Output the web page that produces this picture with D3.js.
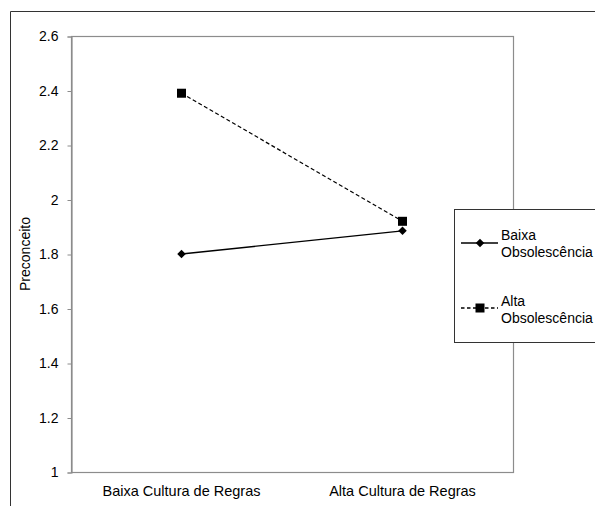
<!DOCTYPE html>
<html><head><meta charset="utf-8">
<script src="https://cdn.jsdelivr.net/npm/d3@7"></script>
<style>body{margin:0;background:#fff}svg{display:block}text{font-family:"Liberation Sans",Arial,sans-serif}</style>
</head><body>
<script>
const categories = ["Baixa Cultura de Regras", "Alta Cultura de Regras"];
const seriesNames = ["Baixa Obsolescência", "Alta Obsolescência"];
const baixaObs = [1.80, 1.885];
const altaObs = [2.39, 1.92];
const yTicks = [1, 1.2, 1.4, 1.6, 1.8, 2, 2.2, 2.4, 2.6];

const W = 595, H = 506;
const FONT = "Liberation Sans, Arial, sans-serif";
const svg = d3.select("body").append("svg").attr("width", W).attr("height", H);

// outer frame (left and top)
svg.append("path").attr("d", `M10.5,${H}V11.5H${W}`).attr("fill","none").attr("stroke","#333").attr("stroke-width",1);

const L = 71, T = 36, R = 513, B = 472;
const x = d3.scaleBand().domain(categories).range([L, R]);
const y = d3.scaleLinear().domain([1, 2.6]).range([B, T]);

// plot border
svg.append("rect").attr("x", L+0.5).attr("y", T+0.5).attr("width", R-L).attr("height", B-T)
  .attr("fill","none").attr("stroke","#8c8c8c").attr("stroke-width",1.2);

// y axis
const yAxis = svg.append("g").attr("transform", `translate(${L+0.5},0.5)`)
  .call(d3.axisLeft(y).tickValues(yTicks).tickSize(4).tickPadding(9).tickFormat(d => String(+d.toFixed(1))));
yAxis.select(".domain").attr("stroke","#8c8c8c").attr("stroke-width",1.2);
yAxis.selectAll(".tick line").attr("stroke","#8c8c8c");
yAxis.selectAll("text").attr("font-size", 14).attr("fill","#000").attr("font-family",FONT);

// x axis labels
const xAxis = svg.append("g").attr("transform", `translate(0,${B+0.5})`)
  .call(d3.axisBottom(x).tickSize(0).tickPadding(13));
xAxis.select(".domain").remove();
xAxis.selectAll("text").attr("font-size", 14.5).attr("fill","#000").attr("font-family",FONT);

// y label
svg.append("text").attr("transform", `translate(30,${(T+B)/2}) rotate(-90)`)
  .attr("text-anchor","middle").attr("font-size", 14).text("Preconceito");

const cx = c => x(c) + x.bandwidth()/2;
const line = d3.line().x((d,i) => cx(categories[i])).y(d => y(d));

svg.append("path").datum(baixaObs).attr("d", line).attr("fill","none").attr("stroke","#000").attr("stroke-width",1.4);
svg.append("path").datum(altaObs).attr("d", line).attr("fill","none").attr("stroke","#000").attr("stroke-width",1.2).attr("stroke-dasharray","4,2.5");

const diamondPath = d3.symbol().type(d3.symbolSquare).size(36);
svg.selectAll(".dm").data(baixaObs).join("path")
  .attr("d", diamondPath).attr("transform",(d,i)=>`translate(${cx(categories[i])},${y(d)}) rotate(45)`).attr("fill","#000");
svg.selectAll(".sq").data(altaObs).join("rect")
  .attr("x",(d,i)=>cx(categories[i])-4.5).attr("y",d=>y(d)-4.5).attr("width",9).attr("height",9).attr("fill","#000");

// legend
const lg = svg.append("g");
lg.append("rect").attr("x",454.5).attr("y",209.5).attr("width",150).attr("height",133)
  .attr("fill","#fff").attr("stroke","#333").attr("stroke-width",1);
const items = [
  {name: seriesNames[0], ly: 243, dash: null, mark: "d", lines: ["Baixa","Obsolescência"], ty: 240},
  {name: seriesNames[1], ly: 308, dash: "3.5,2.5", mark: "s", lines: ["Alta","Obsolescência"], ty: 306}
];
items.forEach(it => {
  lg.append("line").attr("x1",461).attr("x2",498).attr("y1",it.ly).attr("y2",it.ly)
    .attr("stroke","#000").attr("stroke-width",1.3).attr("stroke-dasharray",it.dash);
  if (it.mark === "d") {
    lg.append("path").attr("d", diamondPath).attr("transform",`translate(480,${it.ly}) rotate(45)`).attr("fill","#000");
  } else {
    lg.append("rect").attr("x",475.5).attr("y",it.ly-4.5).attr("width",9).attr("height",9).attr("fill","#000");
  }
  const t = lg.append("text").attr("x",501).attr("y",it.ty).attr("font-size",14);
  t.append("tspan").attr("x",501).text(it.lines[0]);
  t.append("tspan").attr("x",501).attr("dy",16.5).text(it.lines[1]);
});
</script>
</body></html>
